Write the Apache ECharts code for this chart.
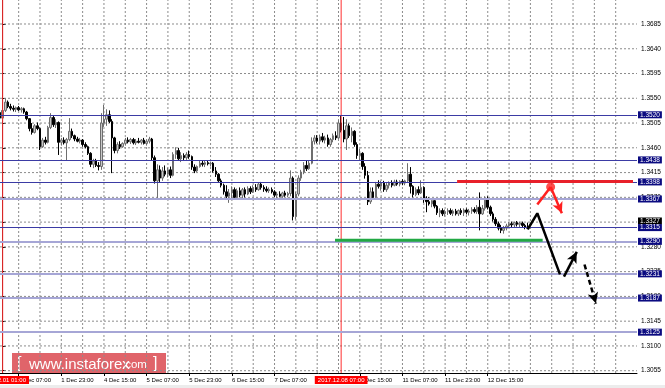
<!DOCTYPE html>
<html><head><meta charset="utf-8">
<script src="https://cdn.jsdelivr.net/npm/echarts@6/dist/echarts.min.js"></script>
<style>html,body{margin:0;padding:0;background:#fff}#c{width:665px;height:388px;background:#fff}</style>
</head><body><div id="c"></div>
<script>
// bars are hourly, index 0 = 2017.12.01 01:00 (bar -1 is the one before it)
const firstBar = -1, lastBar = 238;
const opens = [1.3524,1.3514,1.3528,1.3543,1.3535,1.3532,1.3530,1.3533,1.3529,1.3531,1.3525,1.3513,1.3495,1.3488,1.3500,1.3495,1.3462,1.3474,1.3470,1.3497,
1.3515,1.3502,1.3506,1.3470,1.3474,1.3469,1.3475,1.3490,1.3482,1.3476,1.3472,1.3474,1.3466,1.3462,1.3450,1.3430,1.3436,1.3428,1.3426,1.3505,
1.3512,1.3520,1.3508,1.3478,1.3455,1.3466,1.3462,1.3468,1.3474,1.3471,1.3475,1.3469,1.3472,1.3470,1.3474,1.3468,1.3472,1.3476,1.3442,1.3400,
1.3420,1.3405,1.3418,1.3412,1.3420,1.3410,1.3448,1.3455,1.3440,1.3446,1.3442,1.3448,1.3444,1.3425,1.3418,1.3426,1.3432,1.3430,1.3433,1.3431,
1.3432,1.3418,1.3412,1.3400,1.3392,1.3380,1.3372,1.3378,1.3384,1.3370,1.3382,1.3374,1.3384,1.3376,1.3386,1.3380,1.3388,1.3384,1.3394,1.3388,
1.3385,1.3382,1.3384,1.3380,1.3374,1.3376,1.3372,1.3378,1.3374,1.3377,1.3405,1.3335,1.3376,1.3405,1.3416,1.3428,1.3422,1.3432,1.3472,1.3478,
1.3472,1.3480,1.3474,1.3478,1.3466,1.3475,1.3482,1.3478,1.3505,1.3492,1.3476,1.3500,1.3482,1.3490,1.3466,1.3446,1.3450,1.3426,1.3410,1.3362,
1.3380,1.3370,1.3394,1.3390,1.3396,1.3384,1.3392,1.3396,1.3392,1.3398,1.3394,1.3399,1.3396,1.3400,1.3412,1.3390,1.3375,1.3384,1.3378,1.3388,
1.3366,1.3362,1.3358,1.3364,1.3354,1.3342,1.3346,1.3340,1.3344,1.3346,1.3341,1.3345,1.3340,1.3346,1.3342,1.3347,1.3343,1.3345,1.3348,1.3344,
1.3352,1.3340,1.3350,1.3366,1.3352,1.3340,1.3330,1.3322,1.3314,1.3310,1.3314,1.3318,1.3322,1.3320,1.3324,1.3321,1.3323,1.3319,1.3316];
const highs = [1.3530,1.3530,1.3549,1.3546,1.3540,1.3537,1.3535,1.3536,1.3534,1.3533,1.3527,1.3514,1.3505,1.3503,1.3506,1.3497,1.3478,1.3480,1.3500,1.3523,
1.3518,1.3512,1.3508,1.3478,1.3479,1.3478,1.3514,1.3495,1.3484,1.3480,1.3478,1.3476,1.3470,1.3464,1.3452,1.3440,1.3440,1.3434,1.3523,1.3538,
1.3530,1.3528,1.3512,1.3480,1.3470,1.3472,1.3470,1.3478,1.3479,1.3478,1.3478,1.3476,1.3478,1.3476,1.3478,1.3475,1.3480,1.3478,1.3446,1.3430,
1.3428,1.3425,1.3428,1.3424,1.3426,1.3452,1.3461,1.3460,1.3452,1.3450,1.3452,1.3455,1.3446,1.3430,1.3428,1.3436,1.3436,1.3436,1.3436,1.3435,
1.3434,1.3425,1.3414,1.3404,1.3395,1.3392,1.3385,1.3390,1.3388,1.3386,1.3388,1.3387,1.3388,1.3390,1.3390,1.3392,1.3394,1.3396,1.3398,1.3392,
1.3390,1.3388,1.3388,1.3383,1.3380,1.3381,1.3380,1.3382,1.3380,1.3419,1.3408,1.3380,1.3410,1.3420,1.3434,1.3437,1.3436,1.3479,1.3483,1.3483,
1.3484,1.3487,1.3482,1.3484,1.3478,1.3486,1.3490,1.3510,1.3519,1.3516,1.3512,1.3504,1.3497,1.3492,1.3470,1.3458,1.3452,1.3432,1.3418,1.3388,
1.3388,1.3398,1.3401,1.3400,1.3400,1.3396,1.3399,1.3401,1.3402,1.3402,1.3401,1.3403,1.3402,1.3432,1.3425,1.3392,1.3388,1.3390,1.3401,1.3390,
1.3372,1.3370,1.3368,1.3368,1.3356,1.3350,1.3350,1.3348,1.3350,1.3350,1.3348,1.3349,1.3348,1.3350,1.3350,1.3350,1.3349,1.3352,1.3352,1.3356,
1.3379,1.3356,1.3372,1.3372,1.3355,1.3344,1.3334,1.3326,1.3320,1.3318,1.3322,1.3325,1.3326,1.3326,1.3327,1.3326,1.3326,1.3322,1.3324];
const lows = [1.3512,1.3510,1.3525,1.3532,1.3528,1.3526,1.3525,1.3527,1.3524,1.3522,1.3510,1.3490,1.3484,1.3486,1.3492,1.3456,1.3460,1.3466,1.3468,1.3494,
1.3498,1.3496,1.3447,1.3464,1.3466,1.3437,1.3472,1.3478,1.3472,1.3470,1.3468,1.3462,1.3459,1.3447,1.3425,1.3423,1.3425,1.3419,1.3420,1.3498,
1.3500,1.3505,1.3414,1.3450,1.3450,1.3458,1.3460,1.3464,1.3468,1.3467,1.3466,1.3465,1.3468,1.3466,1.3466,1.3464,1.3468,1.3437,1.3395,1.3368,
1.3398,1.3400,1.3408,1.3406,1.3405,1.3408,1.3440,1.3436,1.3434,1.3436,1.3438,1.3440,1.3420,1.3414,1.3416,1.3424,1.3426,1.3425,1.3428,1.3426,
1.3415,1.3407,1.3396,1.3388,1.3375,1.3368,1.3360,1.3368,1.3366,1.3366,1.3370,1.3368,1.3370,1.3374,1.3376,1.3378,1.3380,1.3382,1.3384,1.3380,
1.3379,1.3378,1.3377,1.3370,1.3368,1.3370,1.3369,1.3371,1.3370,1.3372,1.3328,1.3330,1.3372,1.3400,1.3412,1.3418,1.3420,1.3430,1.3466,1.3468,
1.3466,1.3470,1.3468,1.3462,1.3462,1.3470,1.3474,1.3476,1.3488,1.3470,1.3456,1.3478,1.3470,1.3462,1.3440,1.3437,1.3420,1.3404,1.3356,1.3358,
1.3366,1.3368,1.3386,1.3382,1.3380,1.3380,1.3386,1.3388,1.3390,1.3391,1.3390,1.3392,1.3392,1.3396,1.3377,1.3370,1.3372,1.3374,1.3376,1.3360,
1.3343,1.3355,1.3352,1.3350,1.3338,1.3334,1.3336,1.3335,1.3338,1.3338,1.3336,1.3337,1.3336,1.3338,1.3336,1.3339,1.3337,1.3340,1.3341,1.3340,
1.3310,1.3338,1.3346,1.3348,1.3336,1.3326,1.3318,1.3310,1.3305,1.3304,1.3310,1.3314,1.3316,1.3315,1.3317,1.3315,1.3316,1.3312,1.3312];
const closes = [1.3514,1.3528,1.3543,1.3535,1.3532,1.3530,1.3533,1.3529,1.3531,1.3525,1.3513,1.3495,1.3488,1.3500,1.3495,1.3462,1.3474,1.3470,1.3497,1.3515,
1.3502,1.3506,1.3470,1.3474,1.3469,1.3475,1.3490,1.3482,1.3476,1.3472,1.3474,1.3466,1.3462,1.3450,1.3430,1.3436,1.3428,1.3426,1.3505,1.3512,
1.3520,1.3508,1.3478,1.3455,1.3466,1.3462,1.3468,1.3474,1.3471,1.3475,1.3469,1.3472,1.3470,1.3474,1.3468,1.3472,1.3476,1.3442,1.3400,1.3420,
1.3405,1.3418,1.3412,1.3420,1.3410,1.3448,1.3455,1.3440,1.3446,1.3442,1.3448,1.3444,1.3425,1.3418,1.3426,1.3432,1.3430,1.3433,1.3431,1.3432,
1.3418,1.3412,1.3400,1.3392,1.3380,1.3372,1.3378,1.3384,1.3370,1.3382,1.3374,1.3384,1.3376,1.3386,1.3380,1.3388,1.3384,1.3394,1.3388,1.3385,
1.3382,1.3384,1.3380,1.3374,1.3376,1.3372,1.3378,1.3374,1.3377,1.3405,1.3335,1.3376,1.3405,1.3416,1.3428,1.3422,1.3432,1.3472,1.3478,1.3472,
1.3480,1.3474,1.3478,1.3466,1.3475,1.3482,1.3478,1.3505,1.3492,1.3476,1.3500,1.3482,1.3490,1.3466,1.3446,1.3450,1.3426,1.3410,1.3362,1.3380,
1.3370,1.3394,1.3390,1.3396,1.3384,1.3392,1.3396,1.3392,1.3398,1.3394,1.3399,1.3396,1.3400,1.3412,1.3390,1.3375,1.3384,1.3378,1.3388,1.3366,
1.3362,1.3358,1.3364,1.3354,1.3342,1.3346,1.3340,1.3344,1.3346,1.3341,1.3345,1.3340,1.3346,1.3342,1.3347,1.3343,1.3345,1.3348,1.3344,1.3352,
1.3340,1.3350,1.3366,1.3352,1.3340,1.3330,1.3322,1.3314,1.3310,1.3314,1.3318,1.3322,1.3320,1.3324,1.3321,1.3323,1.3319,1.3316,1.3314];

const timeLabelBars = [6, 22, 38, 54, 70, 86, 102, 134, 150, 166, 182];
const timeLabels = ['1 Dec 07:00','1 Dec 23:00','4 Dec 15:00','5 Dec 07:00','5 Dec 23:00','6 Dec 15:00','7 Dec 07:00','8 Dec 15:00','11 Dec 07:00','11 Dec 23:00','12 Dec 15:00'];
const gridStepBars = 8;
const markerBars = [0, 127];
const markerLabels = ['2017.12.01 01:00', '2017.12.08 07:00'];
const priceMin = 1.30508, priceMax = 1.37286;
const priceTicks = [1.3055,1.3100,1.3145,1.3190,1.3235,1.3280,1.3325,1.3370,1.3415,1.3460,1.3505,1.3550,1.3595,1.3640,1.3685,1.3730];
const levels = [1.3520, 1.3438, 1.3398, 1.3367, 1.3315, 1.3290, 1.3231, 1.3187, 1.3125];
const levelKinds = ['main','main','main','soft','main','soft','soft','soft','soft'];
const currentPrice = 1.3327;
const redLevel = [[170.5, 1.3399], [236.5, 1.3399]];
const greenLevel = [[124.7, 1.3292], [202.6, 1.3292]];
const blackPath = [[197, 1.3312], [200.6, 1.3341], [209.1, 1.3230]];
const blackUp = [[210.6, 1.3226], [215.4, 1.3271]];
const blackDash = [[218.3, 1.3248], [222.6, 1.3177]];
const redPath = [[200.6, 1.3357], [205.6, 1.3389]];
const redDown = [[205.6, 1.3389], [209.8, 1.3341]];

const cats = [];
for (let k = firstBar; k <= lastBar; k++) cats.push(String(k));
const gridBars = [];
for (let k = timeLabelBars[0]; k < lastBar; k += gridStepBars) gridBars.push(k);
const candles = opens.map((o, i) => [o, closes[i], lows[i], highs[i]]);

const F = 'Liberation Sans';
const gridStyle = () => ({color: '#8c8c8c', type: [2, 2], width: 1});
const chart = echarts.init(document.getElementById('c'), null, {renderer: 'canvas'});
const arrowLine = (pts, color, dashed) => ({
  data: [[{coord: pts[0], lineStyle: {color: color, width: 2.5, type: dashed ? [5, 3] : 'solid'}}, {coord: pts[1]}]],
  symbol: ['none', 'arrow'], symbolSize: [8, 11], silent: true, label: {show: false},
  lineStyle: {color: color, width: 2.5, type: dashed ? [5, 3] : 'solid', opacity: 1},
  emphasis: {disabled: true}
});
const isLabelBar = (i) => timeLabelBars.includes(i + firstBar);

const gridSeries = priceTicks.map(v => ({
  type: 'line', xAxisIndex: 1, z: 2, symbol: 'none', silent: true,
  data: [[firstBar, v], [lastBar, v]], lineStyle: gridStyle()
})).concat(gridBars.map(b => ({
  type: 'line', xAxisIndex: 1, z: 2, symbol: 'none', silent: true,
  data: [[b, priceMin], [b, priceMax]], lineStyle: gridStyle()
})));

const markerSeries = markerBars.map((b, i) => ({
  type: 'line', xAxisIndex: 1, z: 4, symbol: 'none', silent: true,
  data: [[b, priceMin], [b, priceMax]],
  lineStyle: {color: '#ff3030', width: 1},
  markLine: {silent: true, symbol: ['none', 'none'],
    data: [{xAxis: b, lineStyle: {color: 'rgba(0,0,0,0)', width: 0},
      label: {show: true, position: 'start', distance: 3, formatter: markerLabels[i],
        backgroundColor: '#ff0000', color: '#fff', fontSize: 6, fontFamily: F, padding: [1, 3]}}]}
}));

chart.setOption({
  animation: false,
  grid: {left: 0, right: 28, top: 0, bottom: 15, containLabel: false},
  xAxis: [{
    type: 'category', data: cats, boundaryGap: false,
    axisLine: {show: true, lineStyle: {color: '#000', width: 1}},
    axisTick: {show: true, length: 3, interval: isLabelBar, lineStyle: {color: '#000'}},
    axisLabel: {show: true, interval: isLabelBar,
      formatter: (v) => { const j = timeLabelBars.indexOf(Number(v)); return j >= 0 ? timeLabels[j] : ''; },
      align: 'left', fontSize: 6, fontFamily: F, color: '#000', margin: 4},
    splitLine: {show: false}
  }, {
    type: 'value', min: firstBar, max: lastBar, show: false
  }],
  yAxis: {
    type: 'value', position: 'right', min: priceMin, max: priceMax, scale: true,
    splitLine: {show: false},
    axisLine: {show: true, lineStyle: {color: '#000', width: 1}},
    axisTick: {show: true, length: 3, customValues: priceTicks, lineStyle: {color: '#000'}},
    axisLabel: {show: true, customValues: priceTicks, formatter: (v) => v.toFixed(4), fontSize: 6.5, fontFamily: F, color: '#000', margin: 4}
  },
  series: gridSeries.concat([{
    type: 'line', xAxisIndex: 1, data: [], z: 2,
    markLine: {silent: true, symbol: ['none', 'none'], precision: 4,
      label: {show: true, position: 'end', distance: 1, formatter: (p) => p.value.toFixed(4),
        backgroundColor: '#0a0a80', color: '#fff', fontSize: 6.5, fontFamily: F, padding: [0, 2], lineHeight: 7},
      data: [{yAxis: currentPrice, lineStyle: {color: 'rgba(0,0,0,0)', width: 0}, label: {backgroundColor: '#000', color: '#fff'}}].concat(
        levels.map((v, i) => ({yAxis: v, lineStyle: levelKinds[i] === 'main'
          ? {color: '#3b3ba4', width: 1, type: 'solid'} : {color: '#a6a6d6', width: 2, type: 'solid'}})))}
  }, {
    type: 'candlestick', data: candles, z: 3, barWidth: 2,
    itemStyle: {color: '#c8c8c8', color0: '#000000', borderColor: '#6e6e6e', borderColor0: '#000000', borderWidth: 1}
  }]).concat(markerSeries).concat([{
    type: 'line', xAxisIndex: 1, data: greenLevel, z: 5, symbol: 'none', silent: true,
    lineStyle: {color: '#22a844', width: 3}
  }, {
    type: 'line', xAxisIndex: 1, data: redLevel, z: 5, symbol: 'none', silent: true,
    lineStyle: {color: '#e8202a', width: 3}
  }, {
    type: 'line', xAxisIndex: 1, data: blackPath, z: 6, symbol: 'none', silent: true,
    lineStyle: {color: '#000', width: 2.5}, markLine: arrowLine(blackUp, '#000', false)
  }, {
    type: 'line', xAxisIndex: 1, data: [], z: 6, silent: true,
    markLine: arrowLine(blackDash, '#000', true)
  }, {
    type: 'line', xAxisIndex: 1, data: redPath, z: 6, silent: true, symbol: 'none',
    lineStyle: {color: '#ff2020', width: 2.5}, markLine: arrowLine(redDown, '#ff2020', false)
  }, {
    type: 'scatter', xAxisIndex: 1, data: [redPath[1]], z: 7, symbolSize: 9, silent: true,
    itemStyle: {color: '#ff2020'}
  }]),
  graphic: [
    {type: 'rect', left: 0, top: 385, shape: {width: 665, height: 3}, style: {fill: '#ececec'}, silent: true},
    {type: 'group', left: 12, top: 353, silent: true, z: 100, children: [
      {type: 'rect', shape: {x: 0, y: 0, width: 154, height: 20}, style: {fill: 'rgba(212,40,48,0.72)'}},
      {type: 'text', x: 5, y: 19, style: {text: '[', fill: '#fff', font: '16px "Liberation Sans"', verticalAlign: 'bottom'}},
      {type: 'text', x: 17, y: 19, style: {text: 'www.instaforex', fill: '#fff', font: '15px "Liberation Sans"', verticalAlign: 'bottom'}},
      {type: 'text', x: 110, y: 18, style: {text: '.com', fill: '#fff', font: '11.5px "Liberation Sans"', verticalAlign: 'bottom'}},
      {type: 'text', x: 141, y: 19, style: {text: ']', fill: '#fff', font: '16px "Liberation Sans"', verticalAlign: 'bottom'}}
    ]}
  ]
});
</script></body></html>
